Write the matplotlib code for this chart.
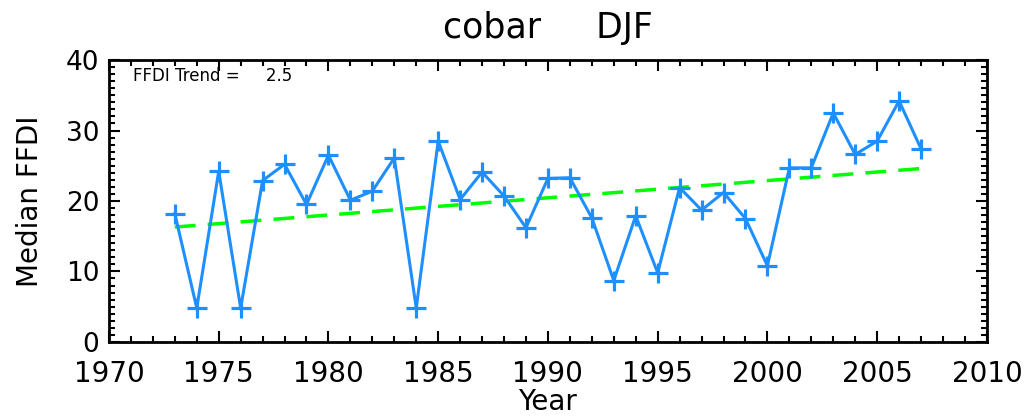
import matplotlib
matplotlib.use("Agg")
import matplotlib.pyplot as plt
from matplotlib.ticker import MultipleLocator

years = list(range(1973, 2008))
ffdi = [18.2, 4.8, 24.2, 4.8, 22.9, 25.2, 19.5, 26.5, 20.1, 21.4,
        26.1, 4.8, 28.5, 20.2, 24.1, 20.7, 16.2, 23.2, 23.3, 17.6,
        8.7, 17.9, 9.8, 21.9, 18.7, 21.2, 17.5, 10.8, 24.7, 24.7,
        32.5, 26.6, 28.5, 34.2, 27.4]
trend_years = [1973, 2007]
trend_values = [16.3, 24.6]
xticks = [1970, 1975, 1980, 1985, 1990, 1995, 2000, 2005, 2010]
yticks = [0, 10, 20, 30, 40]

plt.rcParams['font.family'] = ['DejaVu Sans']
fig = plt.figure(figsize=(10.28, 4.2), dpi=100)
ax = fig.add_axes([0.106, 0.186, 0.854, 0.671])

ax.plot(trend_years, trend_values, color='#00ff00', lw=2.5, ls=(0, (6, 3.5)), zorder=2)
ax.plot(years, ffdi, color='#1e8fff', lw=2.2, marker='+', ms=15, mew=2.3, zorder=3)

ax.set_xlim(1970, 2010)
ax.set_ylim(0, 40)
ax.set_xticks(xticks)
ax.set_yticks(yticks)
ax.xaxis.set_minor_locator(MultipleLocator(1))
ax.yaxis.set_minor_locator(MultipleLocator(1))
ax.tick_params(which='both', direction='in', top=True, right=True, width=1.5)
ax.tick_params(which='major', length=8)
ax.tick_params(which='minor', length=4)
ax.tick_params(axis='x', labelsize=20, pad=13)
ax.tick_params(axis='y', labelsize=19, pad=7)
for s in ax.spines.values():
    s.set_linewidth(2)

ax.set_xlabel('Year', fontsize=20, labelpad=0)
ax.set_ylabel('Median FFDI', fontsize=20)
ax.yaxis.set_label_coords(-0.074, 0.5)
ax.set_title('cobar     DJF', fontsize=25, pad=16)
ax.text(0.027, 0.975, 'FFDI Trend =     2.5', transform=ax.transAxes, fontsize=12, va='top', ha='left')

fig.savefig('out.png', dpi=100)
